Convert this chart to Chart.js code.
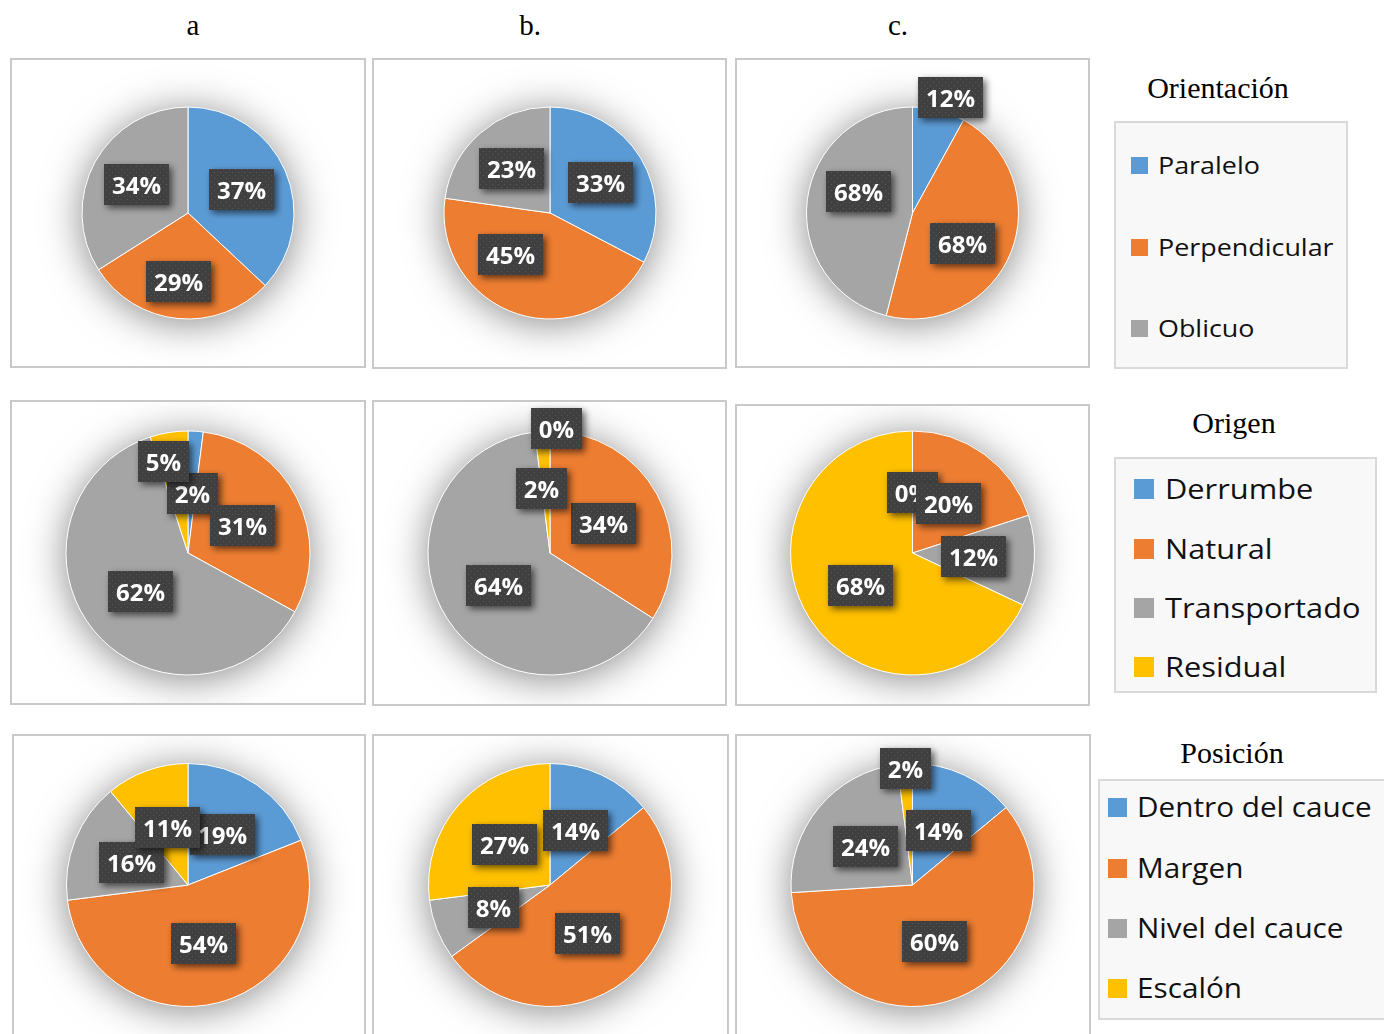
<!DOCTYPE html>
<html lang="es">
<head>
<meta charset="UTF-8" />
<title>Orientación, Origen y Posición</title>
<script src="https://cdn.jsdelivr.net/npm/chart.js@4"></script>
<style>
  body { margin: 0; background: #fff; }
  #lienzo { position: relative; width: 1384px; height: 1034px; overflow: hidden; background: #fff; }
  .panel { position: absolute; box-sizing: border-box; border: 2px solid #c9c9c9; background: #fff; overflow: hidden; }
  .panel canvas { position: absolute; left: 0; top: 0; }
  .col { position: absolute; font-family: "Liberation Serif", "Times New Roman", serif; font-size: 29px; transform: translate(-50%, -50%); }
  .leyenda { position: absolute; box-sizing: border-box; border: 2px solid #d9d9d9; background: #f8f8f8; }
  .titulo { position: absolute; font-family: "Liberation Serif", serif; font-size: 30px; transform: translate(-50%, -50%); white-space: nowrap; color: #000; }
  .item { position: absolute; font-family: "Open Sans", sans-serif; white-space: nowrap; color: #111; transform-origin: left center; }
  .cuadro { position: absolute; }
</style>
</head>
<body>
<div id="lienzo"></div>

<script>
  // categorias
  const columnas = ["a", "b.", "c."];
  const orientacionCats = ["Paralelo", "Perpendicular", "Oblicuo"];
  const origenCats = ["Derrumbe", "Natural", "Transportado", "Residual"];
  const posicionCats = ["Dentro del cauce", "Margen", "Nivel del cauce", "Escalón"];

  const orientacionA = [37, 29, 34];
  const orientacionB = [33, 45, 23];
  const orientacionC = [8, 46, 46];
  const origenA = [2, 31, 62, 5];
  const origenB = [0, 34, 64, 2];
  const origenC = [0, 20, 12, 68];
  const posicionA = [19, 54, 16, 11];
  const posicionB = [14, 51, 8, 27];
  const posicionC = [14, 60, 24, 2];

  // etiquetas tal como aparecen en la figura (la c. de orientacion no coincide con la torta)
  const etiquetasOrientacionC = ["12%", "68%", "68%"];

  const colores = ["#5B9BD5", "#ED7D31", "#A5A5A5", "#FFC000"];

  const lienzo = document.getElementById("lienzo");

  // trama punteada de las etiquetas
  const trama = document.createElement("canvas");
  trama.width = 6; trama.height = 6;
  const tctx = trama.getContext("2d");
  tctx.fillStyle = "#404040";
  tctx.fillRect(0, 0, 6, 6);
  tctx.fillStyle = "#585858";
  tctx.fillRect(1, 1, 1, 1);
  tctx.fillRect(4, 4, 1, 1);

  const sombraTorta = {
    id: "sombraTorta",
    beforeDatasetsDraw(chart) {
      const arc = chart.getDatasetMeta(0).data[0];
      const ctx = chart.ctx;
      ctx.save();
      ctx.shadowColor = "rgba(0,0,0,0.5)";
      ctx.shadowBlur = 40;
      ctx.shadowOffsetY = 4;
      ctx.fillStyle = "#fff";
      ctx.beginPath();
      ctx.arc(arc.x, arc.y, arc.outerRadius - 1, 0, Math.PI * 2);
      ctx.fill();
      ctx.restore();
    }
  };

  function pluginEtiquetas(textos, frac, ajustes) {
    return {
      id: "etiquetas",
      afterDatasetsDraw(chart) {
        const ctx = chart.ctx;
        const pat = ctx.createPattern(trama, "repeat");
        chart.getDatasetMeta(0).data.forEach((arc, i) => {
          const p = arc.getProps(["x", "y", "startAngle", "endAngle", "outerRadius"]);
          let ang = ((p.startAngle + p.endAngle) / 2 + Math.PI / 2) * 180 / Math.PI;
          let f = frac;
          if (ajustes[i]) { ang = ajustes[i][0]; f = ajustes[i][1]; }
          const rad = ang * Math.PI / 180;
          const cx = p.x + Math.sin(rad) * f * p.outerRadius;
          const cy = p.y - Math.cos(rad) * f * p.outerRadius;
          ctx.save();
          ctx.font = "bold 24px 'Open Sans'";
          const w = Math.round(ctx.measureText(textos[i]).width + 16);
          const h = 41;
          const x0 = Math.round(cx - w / 2), y0 = Math.round(cy - h / 2);
          ctx.shadowColor = "rgba(0,0,0,0.6)";
          ctx.shadowBlur = 7;
          ctx.shadowOffsetX = 3;
          ctx.shadowOffsetY = 3;
          ctx.fillStyle = pat;
          ctx.fillRect(x0, y0, w, h);
          ctx.shadowColor = "transparent";
          ctx.fillStyle = "#fff";
          ctx.textAlign = "center";
          ctx.textBaseline = "alphabetic";
          ctx.fillText(textos[i], x0 + w / 2, y0 + h / 2 + 9);
          ctx.restore();
        });
      }
    };
  }

  // paneles: [x, y, w, h] con borde, centro y radio de la torta
  const filasY = [213, 553, 885];
  const filasR = [106.5, 122.5, 122];
  const colsX = [188, 550, 912.5];
  const paneles = [
    [[10, 58, 356, 310], [372, 58, 355, 311], [735, 58, 355, 310]],
    [[10, 400, 356, 305], [372, 400, 355, 306], [735, 404, 355, 302]],
    [[12, 734, 354, 320], [372, 734, 357, 320], [735, 734, 356, 320]]
  ];

  const tortas = [
    [orientacionA, orientacionB, orientacionC],
    [origenA, origenB, origenC],
    [posicionA, posicionB, posicionC]
  ];
  const categorias = [orientacionCats, origenCats, posicionCats];
  const textos = [
    [orientacionA.map(v => v + "%"), orientacionB.map(v => v + "%"), etiquetasOrientacionC],
    [origenA.map(v => v + "%"), origenB.map(v => v + "%"), origenC.map(v => v + "%")],
    [posicionA.map(v => v + "%"), posicionB.map(v => v + "%"), posicionC.map(v => v + "%")]
  ];
  const fracFila = [0.555, 0.5, 0.5];
  // posiciones de etiquetas que Excel movio (angulo desde arriba, fraccion del radio)
  const ajustes = [
    [{ 1: [188, 0.65] }, { 1: [224, 0.54] }, { 0: [18, 1.15], 1: [121, 0.55], 2: [292, 0.55] }],
    [{ 0: [4, 0.49], 3: [345, 0.78] }, { 0: [3, 1.02], 3: [352, 0.53] }, {}],
    [{}, {}, { 3: [356.6, 0.96] }]
  ];

  columnas.forEach((c, j) => {
    const d = document.createElement("div");
    d.className = "col";
    d.textContent = c;
    d.style.left = [193, 530, 898][j] + "px";
    d.style.top = "25px";
    lienzo.appendChild(d);
  });

  for (let f = 0; f < 3; f++) {
    for (let c = 0; c < 3; c++) {
      const [px, py, pw, ph] = paneles[f][c];
      const div = document.createElement("div");
      div.className = "panel";
      Object.assign(div.style, { left: px + "px", top: py + "px", width: pw + "px", height: ph + "px" });
      const cv = document.createElement("canvas");
      const iw = pw - 4, ih = ph - 4;
      cv.width = iw; cv.height = ih;
      cv.style.width = iw + "px"; cv.style.height = ih + "px";
      div.appendChild(cv);
      lienzo.appendChild(div);

      const r = filasR[f];
      const cx = colsX[c] - (px + 2), cy = filasY[f] - (py + 2);
      new Chart(cv, {
        type: "pie",
        data: {
          labels: categorias[f],
          datasets: [{
            data: tortas[f][c],
            backgroundColor: colores.slice(0, categorias[f].length),
            borderColor: "#ffffff",
            borderWidth: 1,
            hoverOffset: 0
          }]
        },
        options: {
          responsive: false,
          animation: false,
          layout: { padding: { left: cx - r, right: iw - cx - r, top: cy - r, bottom: ih - cy - r } },
          plugins: { legend: { display: false }, tooltip: { enabled: false } }
        },
        plugins: [sombraTorta, pluginEtiquetas(textos[f][c], fracFila[f], ajustes[f][c])]
      });
    }
  }

  // leyendas
  const leyendas = [
    { titulo: "Orientación", tc: [1218, 88], caja: [1114, 121, 234, 248], cats: orientacionCats,
      sq: 17, sqX: 1131, txX: 1158, filas: [165, 247, 328], fs: 24, esc: 1.12 },
    { titulo: "Origen", tc: [1234, 423], caja: [1114, 457, 263, 236], cats: origenCats,
      sq: 20, sqX: 1134, txX: 1165, filas: [489, 549, 608, 667], fs: 27, esc: 1.14 },
    { titulo: "Posición", tc: [1232, 753], caja: [1098, 779, 300, 241], cats: posicionCats,
      sq: 19, sqX: 1108, txX: 1137, filas: [807, 868, 928, 988], fs: 27, esc: 1.1 }
  ];

  leyendas.forEach(l => {
    const t = document.createElement("div");
    t.className = "titulo";
    t.textContent = l.titulo;
    t.style.left = l.tc[0] + "px"; t.style.top = l.tc[1] + "px";
    lienzo.appendChild(t);

    const b = document.createElement("div");
    b.className = "leyenda";
    Object.assign(b.style, { left: l.caja[0] + "px", top: l.caja[1] + "px", width: l.caja[2] + "px", height: l.caja[3] + "px" });
    lienzo.appendChild(b);

    l.cats.forEach((nombre, i) => {
      const q = document.createElement("div");
      q.className = "cuadro";
      Object.assign(q.style, {
        left: l.sqX + "px", top: (l.filas[i] - l.sq / 2) + "px",
        width: l.sq + "px", height: l.sq + "px", background: colores[i]
      });
      lienzo.appendChild(q);

      const s = document.createElement("div");
      s.className = "item";
      s.textContent = nombre;
      Object.assign(s.style, {
        left: l.txX + "px", top: (l.filas[i] - l.fs * 0.7) + "px",
        fontSize: l.fs + "px", lineHeight: (l.fs * 1.4) + "px",
        transform: "scaleX(" + l.esc + ")"
      });
      lienzo.appendChild(s);
    });
  });
</script>
</body>
</html>
